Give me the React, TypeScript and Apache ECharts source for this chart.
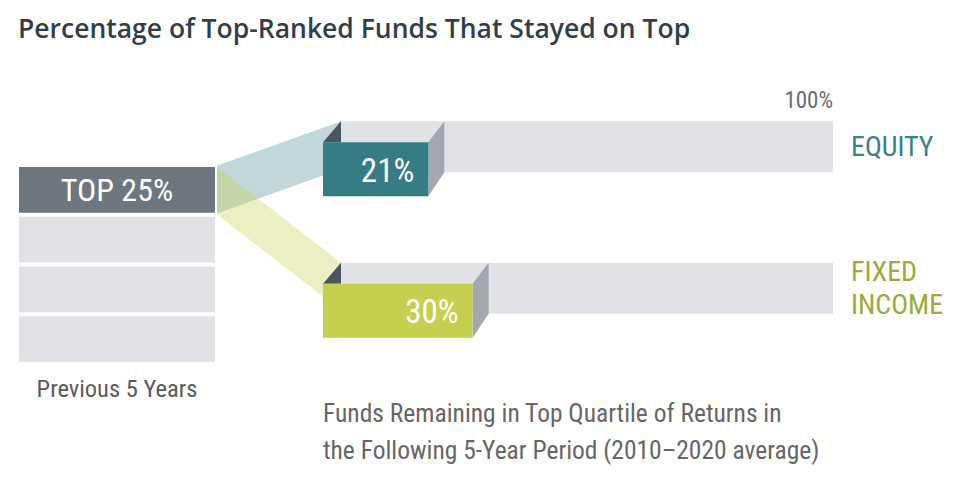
import React, { useEffect, useRef } from "react";
import * as echarts from "echarts";

const titleText = "Percentage of Top-Ranked Funds That Stayed on Top";
const footnoteLines = [
  "Funds Remaining in Top Quartile of Returns in",
  "the Following 5-Year Period (2010–2020 average)",
];
const assetClasses = ["EQUITY", "FIXED INCOME"];
const assetLabels = ["EQUITY", "FIXED\nINCOME"];
const stayedOnTop = [21, 30];
const scaleMax = [100, 100];
const quartileNames = ["TOP 25%", "", "", ""];
const quartileShares = [25, 25, 25, 25];
const previousPeriod = ["Previous 5 Years"];

const COND = "'Roboto Condensed', 'DejaVu Sans Condensed', sans-serif";
const BAR_H = 51;
const LEFT = { left: 17, top: 165, width: 200, height: 199 };
const boxColors = ["#367c85", "#c5d04e"];
const labelColors = ["#3b808a", "#9aab3a"];
const bandColors = ["rgba(54,124,133,0.3)", "rgba(197,208,78,0.35)"];

export default function App() {
  const ref = useRef<HTMLDivElement>(null);
  useEffect(() => {
    const chart = echarts.init(ref.current!, undefined, { renderer: "svg" });
    const option: any = {
      animation: false,
      title: [
        {
          text: titleText,
          left: 18,
          top: 14,
          padding: 0,
          textStyle: { fontFamily: "'Open Sans'", fontWeight: 600, fontSize: 26.5, color: "#343e48" },
        },
        {
          text: footnoteLines.join("\n"),
          left: 323,
          top: 394,
          padding: 0,
          textStyle: { fontFamily: COND, fontWeight: "normal", fontSize: 25.5, lineHeight: 37, color: "#666666" },
        },
      ],
      grid: [
        { left: 341, width: 492, top: 76, height: 283 },
        { ...LEFT },
      ],
      xAxis: [
        { type: "value", gridIndex: 0, min: 0, max: 100, show: false },
        {
          type: "category",
          gridIndex: 1,
          data: previousPeriod,
          axisLine: { show: false },
          axisTick: { show: false },
          axisLabel: { margin: 12, fontSize: 24.5, fontFamily: COND, color: "#5a5a5a" },
        },
      ],
      yAxis: [
        {
          type: "category",
          gridIndex: 0,
          data: assetClasses,
          inverse: true,
          position: "right",
          axisLine: { show: false },
          axisTick: { show: false },
          splitLine: { show: false },
          axisLabel: {
            margin: 18,
            fontSize: 28,
            lineHeight: 33,
            fontFamily: COND,
            formatter: (_v: string, i: number) => assetLabels[i],
            color: (_v: string, i: number) => labelColors[i],
          },
        },
        { type: "value", gridIndex: 1, min: 0, max: 100, inverse: true, show: false },
      ],
      series: [
        {
          type: "bar",
          name: "Scale",
          xAxisIndex: 0,
          yAxisIndex: 0,
          barWidth: BAR_H,
          silent: true,
          z: 1,
          itemStyle: { color: "#e1e2e6" },
          data: scaleMax.map((v, i) => ({
            value: v,
            label:
              i === 0
                ? {
                    show: true,
                    position: ["100%", -9],
                    align: "right",
                    verticalAlign: "bottom",
                    formatter: "{c}%",
                    fontSize: 23,
                    fontFamily: COND,
                    color: "#6b6b6b",
                  }
                : { show: false },
          })),
        },
        {
          type: "custom",
          name: "Stayed on top",
          xAxisIndex: 0,
          yAxisIndex: 0,
          z: 3,
          data: stayedOnTop.map((v, i) => [v, i]),
          renderItem: (params: any, api: any) => {
            const v = api.value(0);
            const c = api.value(1);
            const p0 = api.coord([0, c]);
            const p1 = api.coord([v, c]);
            const bTop = p0[1] - BAR_H / 2;
            const bBot = p0[1] + BAR_H / 2;
            const fx0 = p0[0] - 18;
            const fx1 = p1[0] - 16;
            const fTop = bTop + 21;
            const fBot = bBot + 24;
            const idx = params.dataIndex;
            return {
              type: "group",
              children: [
                {
                  type: "polygon",
                  shape: { points: [[p0[0], bTop], [fx0, fTop], [p0[0], fTop]] },
                  style: { fill: "#4b5560" },
                },
                {
                  type: "polygon",
                  shape: { points: [[fx1, fTop], [p1[0], bTop], [p1[0], bBot], [fx1, fBot]] },
                  style: { fill: "#a2a8ae" },
                },
                {
                  type: "rect",
                  shape: { x: fx0, y: fTop, width: fx1 - fx0, height: fBot - fTop },
                  style: { fill: boxColors[idx] },
                },
                {
                  type: "text",
                  x: fx1 - 14,
                  y: (fTop + fBot) / 2 + 1,
                  style: {
                    text: `${v}%`,
                    fill: "#ffffff",
                    fontSize: 33,
                    fontFamily: COND,
                    align: "right",
                    verticalAlign: "middle",
                  },
                },
              ],
            };
          },
        },
        ...quartileShares.map((v, i) => ({
          type: "bar",
          name: `Quartile ${i + 1}`,
          xAxisIndex: 1,
          yAxisIndex: 1,
          stack: "quartiles",
          barCategoryGap: "0%",
          silent: true,
          data: [v],
          itemStyle: { color: i === 0 ? "#6e7780" : "#e1e2e6", borderColor: "#ffffff", borderWidth: 2 },
          label: {
            show: quartileNames[i] !== "",
            position: "inside",
            formatter: quartileNames[i],
            fontSize: 32,
            fontFamily: COND,
            color: "#ffffff",
          },
        })),
      ],
    };
    chart.setOption(option);

    const srcX = LEFT.left + LEFT.width - 1;
    const srcTop = chart.convertToPixel({ xAxisIndex: 1, yAxisIndex: 1 }, [0, 0])[1] + 1;
    const srcBot = chart.convertToPixel({ xAxisIndex: 1, yAxisIndex: 1 }, [0, quartileShares[0]])[1] - 1;
    const bands = stayedOnTop.map((_v, i) => {
      const p0 = chart.convertToPixel({ xAxisIndex: 0, yAxisIndex: 0 }, [0, i]);
      const tTop = p0[1] - BAR_H / 2;
      const s = (tTop - srcTop) / (p0[0] - srcX);
      return {
        type: "polygon",
        z: 0,
        silent: true,
        shape: {
          points: [
            [srcX, srcTop],
            [p0[0], tTop],
            [p0[0], srcBot + s * (p0[0] - srcX)],
            [srcX, srcBot],
          ],
        },
        style: { fill: bandColors[i] },
      };
    });
    chart.setOption({ graphic: bands });
    return () => chart.dispose();
  }, []);
  return <div ref={ref} style={{ position: "absolute", left: 0, top: 0, width: 970, height: 490 }} />;
}
